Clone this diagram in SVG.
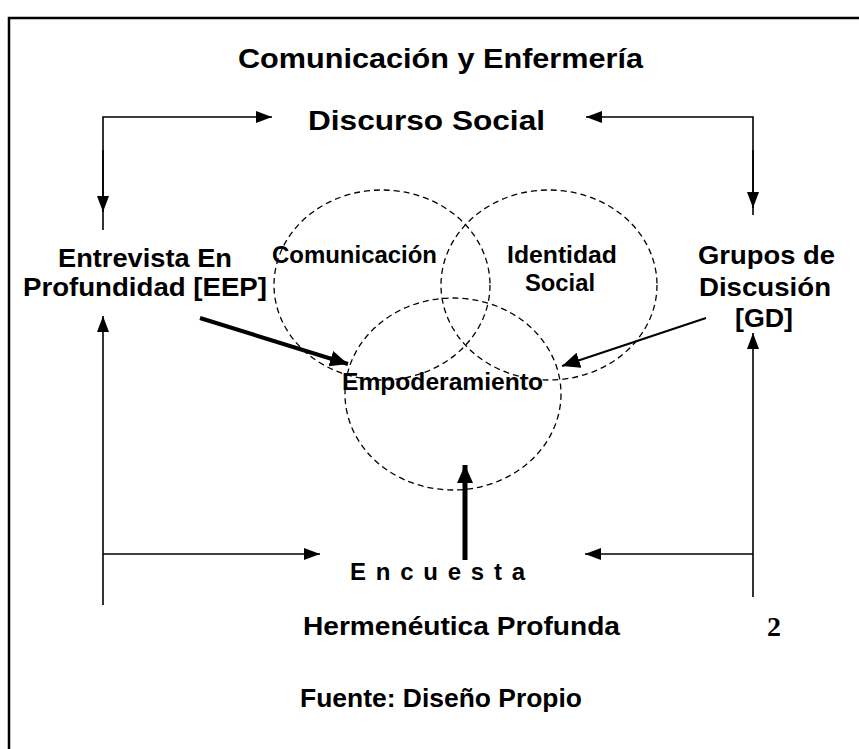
<svg xmlns="http://www.w3.org/2000/svg" width="859" height="749" viewBox="0 0 859 749">
<style>
  text { font-family: "Liberation Sans", Arial, sans-serif; font-weight: bold; fill: #000; }
  .thin { stroke: #000; stroke-width: 1.6; fill: none; }
  .circ { stroke: #000; stroke-width: 1.3; fill: none; stroke-dasharray: 6 4; }
  .head { fill: #000; stroke: none; }
</style>
<defs>
  <marker id="ah" viewBox="0 0 16 12" refX="16" refY="6" markerWidth="16" markerHeight="12" markerUnits="userSpaceOnUse" orient="auto">
    <path d="M0,0 L16,6 L0,12 Z" class="head"/>
  </marker>
  <marker id="ahBig" viewBox="0 0 18 16" refX="18" refY="8" markerWidth="18" markerHeight="16" markerUnits="userSpaceOnUse" orient="auto">
    <path d="M0,0 L18,8 L0,16 Z" class="head"/>
  </marker>
</defs>
<rect x="0" y="0" width="859" height="749" fill="#fff"/>
<path d="M9,749 V18 H859" stroke="#000" stroke-width="2.5" fill="none"/>

<g id="circles">
  <ellipse id="c-comunicacion" cx="382" cy="285" rx="108" ry="95" class="circ"/>
  <ellipse id="c-identidad" cx="549" cy="285" rx="108" ry="95" class="circ"/>
  <ellipse id="c-empoderamiento" cx="453" cy="394" rx="108" ry="96" class="circ"/>
</g>

<g id="connectors">
  <polyline points="103,230 103,117 272,117" class="thin" marker-end="url(#ah)"/>
  <line x1="103" y1="150" x2="103" y2="212" class="thin" marker-end="url(#ah)"/>
  <polyline points="753,215 753,117 586,117" class="thin" marker-end="url(#ah)"/>
  <line x1="753" y1="150" x2="753" y2="208" class="thin" marker-end="url(#ah)"/>
  <line x1="103" y1="605" x2="103" y2="316" class="thin" marker-end="url(#ah)"/>
  <line x1="103" y1="554" x2="320" y2="554" class="thin" marker-end="url(#ah)"/>
  <line x1="753" y1="597" x2="753" y2="333" class="thin" marker-end="url(#ah)"/>
  <line x1="753" y1="554" x2="585" y2="554" class="thin" marker-end="url(#ah)"/>
  <line x1="200" y1="318" x2="348" y2="364" stroke="#000" stroke-width="4" marker-end="url(#ahBig)"/>
  <line x1="706" y1="318" x2="562" y2="366" stroke="#000" stroke-width="2" marker-end="url(#ahBig)"/>
  <line x1="465" y1="560" x2="465" y2="465" stroke="#000" stroke-width="5" marker-end="url(#ahBig)"/>
</g>

<g id="title"><text x="238" y="68" font-size="27" textLength="405" lengthAdjust="spacingAndGlyphs">Comunicación y Enfermería</text></g>
<g id="discurso"><text x="308" y="130" font-size="28" textLength="237" lengthAdjust="spacingAndGlyphs">Discurso Social</text></g>
<g id="eep">
  <text x="58" y="267" font-size="26" textLength="174" lengthAdjust="spacingAndGlyphs">Entrevista En</text>
  <text x="23" y="296" font-size="26" textLength="244" lengthAdjust="spacingAndGlyphs">Profundidad [EEP]</text>
</g>
<g id="comunicacion"><text x="272" y="263" font-size="24" textLength="165" lengthAdjust="spacingAndGlyphs">Comunicación</text></g>
<g id="identidad">
  <text x="507" y="263" font-size="24" textLength="110" lengthAdjust="spacingAndGlyphs">Identidad</text>
  <text x="525" y="291" font-size="24" textLength="70" lengthAdjust="spacingAndGlyphs">Social</text>
</g>
<g id="gd">
  <text x="698" y="264" font-size="26" textLength="137" lengthAdjust="spacingAndGlyphs">Grupos de</text>
  <text x="699" y="296" font-size="26" textLength="132" lengthAdjust="spacingAndGlyphs">Discusión</text>
  <text x="735" y="327" font-size="26" textLength="58" lengthAdjust="spacingAndGlyphs">[GD]</text>
</g>
<g id="empoderamiento"><text x="342" y="390" font-size="24" textLength="201" lengthAdjust="spacingAndGlyphs">Empoderamiento</text></g>
<g id="encuesta"><text x="350" y="580" font-size="24" textLength="175" lengthAdjust="spacing">Encuesta</text></g>
<g id="hermeneutica"><text x="303" y="635" font-size="26" textLength="317" lengthAdjust="spacingAndGlyphs">Hermenéutica Profunda</text></g>
<g id="num"><text x="767" y="636" font-size="28" style="font-family:'Liberation Serif','Times New Roman',serif">2</text></g>
<g id="fuente"><text x="300" y="707" font-size="26" textLength="282" lengthAdjust="spacingAndGlyphs">Fuente: Diseño Propio</text></g>
</svg>
